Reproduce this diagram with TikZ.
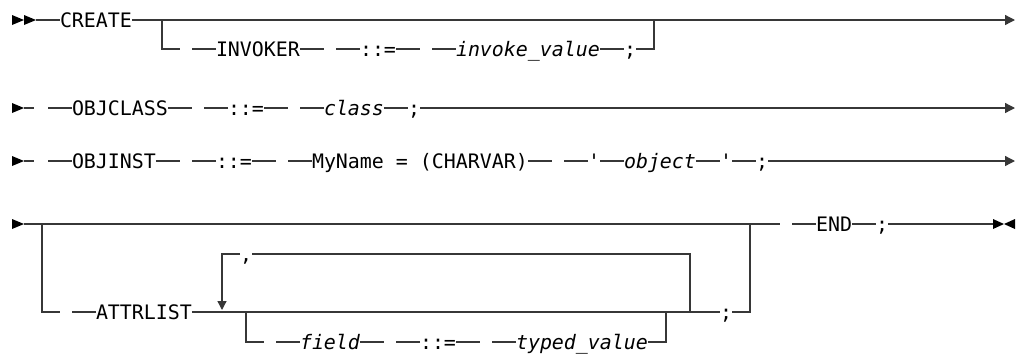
\documentclass[tikz,border=0pt]{standalone}
\usepackage{fontspec}
\setmonofont{DejaVu Sans Mono}
\usetikzlibrary{arrows.meta}
\definecolor{linec}{RGB}{55,55,55}
\tikzset{
  rr/.style={line width=1.3pt, draw=linec},
  kw/.style={inner sep=0pt, outer sep=0pt, anchor=west, text height=14.6pt, text depth=0pt,
    font=\ttfamily\fontsize{19.93}{24}\selectfont, text=black},
  var/.style={kw, font=\ttfamily\itshape\fontsize{19.93}{24}\selectfont},
  endarrow/.style={-{Triangle[length=10pt,width=10pt]}},
  looparrow/.style={-{Triangle[length=9pt,width=9pt]}},
  tri/.style={fill=black},
}
\begin{document}
\begin{tikzpicture}[x=1pt,y=-1pt]
\useasboundingbox (0,0) rectangle (1021,354);

% ---------- Row 1 ----------
\fill[tri] (12,15) -- (24,20) -- (12,25) -- cycle;
\fill[tri] (24,15) -- (36,20) -- (24,25) -- cycle;
\coordinate (r1s) at (36,20);
\node[kw] (create) at (60,20) {CREATE};
\coordinate (r1b) at (162,20);
\coordinate (r1bl) at (180,49);
\coordinate (r1j) at (654,20);
\coordinate (r1e) at (1015,20);
\node[kw] (invoker) at (216,49) {INVOKER};
\node[kw] (as1) at (360,49) {::=};
\node[var] (invval) at (456,49) {invoke\_value};
\node[kw] (sc1) at (624,49) {;};

\draw[rr] (r1s) -- (create.west);
\draw[rr,endarrow] (create.east) -- (r1e);
\draw[rr] (r1b) |- (r1bl);
\draw[rr] (invoker.west) -- ++(-24,0);
\draw[rr] (invoker.east) -- ++(24,0);
\draw[rr] (as1.west) -- ++(-24,0);
\draw[rr] (as1.east) -- ++(24,0);
\draw[rr] (invval.west) -- ++(-24,0);
\draw[rr] (invval.east) -- (sc1.west);
\draw[rr] (sc1.east) -| (r1j);

% ---------- Row 2 ----------
\fill[tri] (12,103) -- (24,108) -- (12,113) -- cycle;
\coordinate (r2s) at (24,108);
\coordinate (r2e) at (1015,108);
\node[kw] (objclass) at (72,108) {OBJCLASS};
\node[kw] (as2) at (228,108) {::=};
\node[var] (class) at (324,108) {class};
\node[kw] (sc2) at (408,108) {;};

\draw[rr] (r2s) -- ++(10,0);
\draw[rr] (objclass.west) -- ++(-24,0);
\draw[rr] (objclass.east) -- ++(24,0);
\draw[rr] (as2.west) -- ++(-24,0);
\draw[rr] (as2.east) -- ++(24,0);
\draw[rr] (class.west) -- ++(-24,0);
\draw[rr] (class.east) -- (sc2.west);
\draw[rr,endarrow] (sc2.east) -- (r2e);

% ---------- Row 3 ----------
\fill[tri] (12,156) -- (24,161) -- (12,166) -- cycle;
\coordinate (r3s) at (24,161);
\coordinate (r3e) at (1015,161);
\node[kw] (objinst) at (72,161) {OBJINST};
\node[kw] (as3) at (216,161) {::=};
\node[kw] (myname) at (312,161) {MyName = (CHARVAR)};
\node[kw] (q1) at (588,161) {'};
\node[var] (object) at (624,161) {object};
\node[kw] (q2) at (720,161) {'};
\node[kw] (sc3) at (756,161) {;};

\draw[rr] (r3s) -- ++(10,0);
\draw[rr] (objinst.west) -- ++(-24,0);
\draw[rr] (objinst.east) -- ++(24,0);
\draw[rr] (as3.west) -- ++(-24,0);
\draw[rr] (as3.east) -- ++(24,0);
\draw[rr] (myname.west) -- ++(-24,0);
\draw[rr] (myname.east) -- ++(24,0);
\draw[rr] (q1.west) -- ++(-24,0);
\draw[rr] (q1.east) -- (object.west);
\draw[rr] (object.east) -- (q2.west);
\draw[rr] (q2.east) -- (sc3.west);
\draw[rr,endarrow] (sc3.east) -- (r3e);

% ---------- Row 4 ----------
\fill[tri] (12,219) -- (24,224) -- (12,229) -- cycle;
\coordinate (r4s) at (24,224);
\coordinate (r4a) at (780,224);
\coordinate (r4bl) at (42,224);
\coordinate (r4blb) at (60,312);
\coordinate (r4br) at (750,224);
\coordinate (lpr) at (690,312);
\coordinate (lpl) at (222,310);
\coordinate (sbl) at (246,312);
\coordinate (sblb) at (264,342);
\coordinate (sbr) at (666,312);
\coordinate (r4e) at (993,224);

\node[kw] (attr) at (96,312) {ATTRLIST};
\node[kw] (comma) at (240,254) {,};
\node[var] (field) at (300,342) {field};
\node[kw] (as4) at (420,342) {::=};
\node[var] (typed) at (516,342) {typed\_value};
\node[kw] (sc4) at (720,312) {;};
\node[kw] (endkw) at (816,224) {END};
\node[kw] (sc5) at (876,224) {;};

\draw[rr] (r4s) -- (r4a);
\draw[rr] (r4bl) |- (r4blb);
\draw[rr] (attr.west) -- ++(-24,0);
\draw[rr] (attr.east) -- (sc4.west);
\draw[rr] (sc4.east) -| (r4br);
\draw[rr] (lpr) |- (comma.east);
\draw[rr,looparrow] (comma.west) -| (lpl);
\draw[rr] (sbl) |- (sblb);
\draw[rr] (field.west) -- ++(-24,0);
\draw[rr] (field.east) -- ++(24,0);
\draw[rr] (as4.west) -- ++(-24,0);
\draw[rr] (as4.east) -- ++(24,0);
\draw[rr] (typed.west) -- ++(-24,0);
\draw[rr] (typed.east) -| (sbr);
\draw[rr] (endkw.west) -- ++(-24,0);
\draw[rr] (endkw.east) -- (sc5.west);
\draw[rr] (sc5.east) -- (r4e);
\fill[tri] (993,219) -- (1004,224) -- (993,229) -- cycle;
\fill[tri] (1015,219) -- (1004,224) -- (1015,229) -- cycle;
\end{tikzpicture}
\end{document}
